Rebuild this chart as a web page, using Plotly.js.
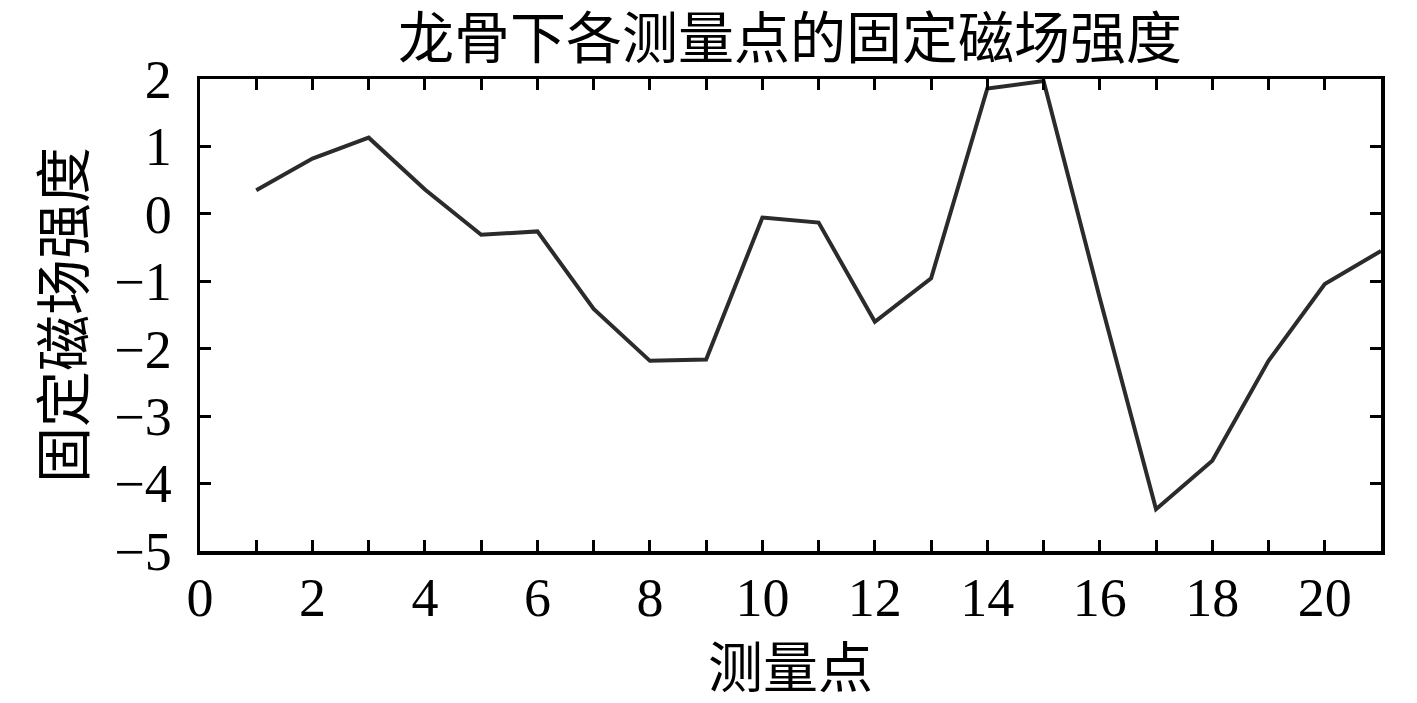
<!DOCTYPE html>
<html>
<head>
<meta charset="utf-8">
<script src="https://cdn.plot.ly/plotly-3.0.1.min.js"></script>
<style>html,body{margin:0;padding:0;background:#fff;}#chart{width:1417px;height:703px;}</style>
</head>
<body>
<div id="chart"></div>
<script>
const points = [1,2,3,4,5,6,7,8,9,10,11,12,13,14,15,16,17,18,19,20,21];
const fieldStrength = [0.35,0.82,1.13,0.36,-0.31,-0.26,-1.41,-2.18,-2.16,-0.055,-0.13,-1.60,-0.955,1.86,1.97,-1.25,-4.38,-3.66,-2.18,-1.04,-0.55];
const xTickVals = [0,1,2,3,4,5,6,7,8,9,10,11,12,13,14,15,16,17,18,19,20,21];
const xTickLabels = ['0','','2','','4','','6','','8','','10','','12','','14','','16','','18','','20',''];
const yTickVals = [-5,-4,-3,-2,-1,0,1,2];
const chartTitle = '龙骨下各测量点的固定磁场强度';
const xTitle = '测量点';
const yTitle = '固定磁场强度';

const serif = '"Liberation Serif", "Times New Roman", "Noto Sans CJK SC", serif';
const cjk = '"Noto Sans CJK SC", "Liberation Serif", sans-serif';

const trace = {
  x: points, y: fieldStrength, type: 'scatter', mode: 'lines',
  line: {color: '#2b2b2b', width: 4}, hoverinfo: 'skip'
};
const axisCommon = {
  showline: true, linecolor: '#000', linewidth: 3.5, mirror: 'ticks',
  ticks: 'inside', ticklen: 11, tickwidth: 3, tickcolor: '#000',
  showgrid: false, zeroline: false,
  tickfont: {family: serif, size: 54, color: '#000'}
};
const layout = {
  width: 1417, height: 703,
  margin: {l: 200, r: 36, t: 79, b: 152},
  paper_bgcolor: '#fff', plot_bgcolor: '#fff',
  showlegend: false,
  title: {text: chartTitle, font: {family: cjk, size: 56, color: '#000'}, x: 0.5575, xanchor: 'center', y: 0.945, yanchor: 'middle'},
  xaxis: Object.assign({}, axisCommon, {
    range: [0, 21], tickmode: 'array', tickvals: xTickVals, ticktext: xTickLabels,
    ticklabelstandoff: -3,
    title: {text: xTitle, font: {family: cjk, size: 55, color: '#000'}, standoff: 14}
  }),
  yaxis: Object.assign({}, axisCommon, {
    range: [-5, 2], tickmode: 'array', tickvals: yTickVals,
    ticklabelstandoff: 14,
    title: {text: yTitle, font: {family: cjk, size: 56, color: '#000'}, standoff: 12}
  })
};
Plotly.newPlot('chart', [trace], layout, {displayModeBar: false, staticPlot: true});
</script>
</body>
</html>
